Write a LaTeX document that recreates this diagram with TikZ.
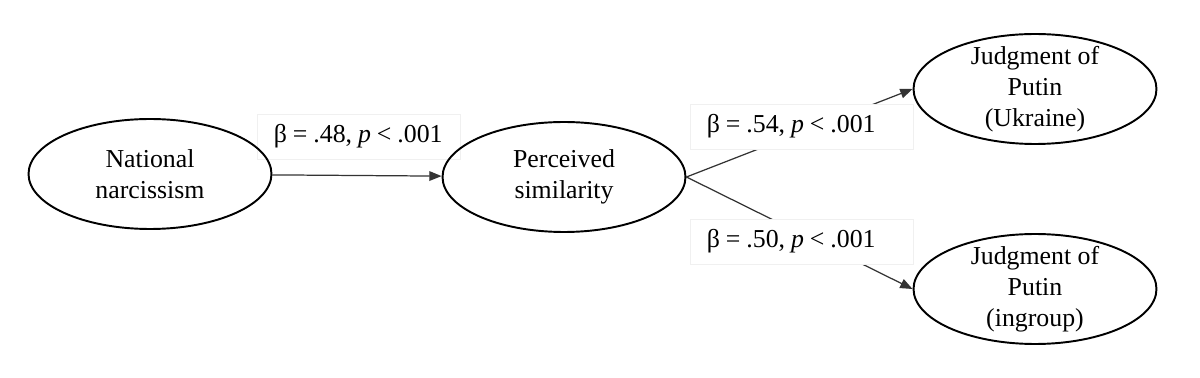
\documentclass[tikz,border=0pt]{standalone}
\usepackage{fontspec}
\setmainfont{Liberation Serif}
\usetikzlibrary{arrows.meta,shapes.geometric,backgrounds}
\newcommand{\coef}[1]{\spaceskip=0.23em\relax β = #1, \textit{p} < .001}
\begin{document}
\begin{tikzpicture}[x=0.02cm, y=-0.02cm, every node/.style={font=\fontsize{14.7}{17.8}\selectfont}, >={Triangle[length=7pt,width=5.5pt]}, v/.style={draw, ellipse, line width=1.1pt, minimum width=4.86cm, minimum height=2.2cm, inner xsep=0pt, inner ysep=-10pt, align=center}, lab/.style={draw=black!6, fill=white, anchor=west, inner xsep=0.33cm, inner ysep=0pt, minimum height=0.9cm, align=left}]
	\useasboundingbox (0,0) rectangle (1200,378);
	\node[v] (nn) at (150,174) {National\\ narcissism}; \node[v] (ps) at (564,177) {Perceived\\ similarity};
	\node[v] (ju) at (1035,89) {Judgment of\\ Putin\\ (Ukraine)}; \node[v] (ji) at (1035,289) {Judgment of\\ Putin\\ (ingroup)};
	\begin{pgfonlayer}{background}
	\draw[->, line width=0.7pt, black!80] (nn) -- (ps); \draw[->, line width=0.7pt, black!80] (ps.east) -- (ju.west); \draw[->, line width=0.7pt, black!80] (ps.east) -- (ji.west);
	\node[lab, text width=3.4cm] (b1) at (257,136.5) {\coef{.48}};
	\node[lab, text width=3.8cm] (b2) at (690,126.5) {\coef{.54}};
	\node[lab, text width=3.8cm] (b3) at (690,241.5) {\coef{.50}};
	\end{pgfonlayer}
\end{tikzpicture}
\end{document}
